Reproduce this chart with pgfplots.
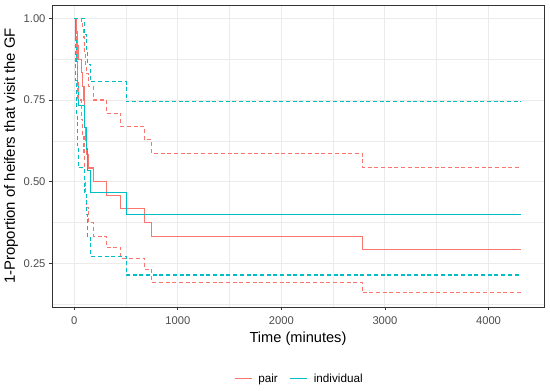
\documentclass[border=0pt]{standalone}
\usepackage{pgfplots}
\pgfplotsset{compat=1.18}
\usepackage{fontspec}
\setmainfont{Liberation Sans}
\definecolor{pairc}{HTML}{F8766D}
\definecolor{indc}{HTML}{00BFC4}
\definecolor{gray92}{HTML}{EBEBEB}
\definecolor{gray20}{HTML}{333333}
\definecolor{gray30}{HTML}{4D4D4D}
\begin{document}
\begin{tikzpicture}[x=1pt,y=1pt]
\useasboundingbox (0,0) rectangle (550,391);
\begin{axis}[
  at={(52pt,84pt)}, anchor=south west,
  scale only axis, width=492pt, height=302pt,
  xmin=-216, xmax=4536, ymin=0.116, ymax=1.041,
  xtick={0,1000,2000,3000,4000},
  ytick={0.25,0.5,0.75,1.0},
  minor xtick={500,1500,2500,3500},
  minor ytick={0.125,0.375,0.625,0.875},
  grid=both,
  major grid style={color=gray92, line width=1pt},
  minor grid style={color=gray92, line width=0.5pt},
  axis line style={gray20, line width=0.9pt},
  tick align=outside,
  major tick length=3pt,
  minor tick length=0pt,
  tick style={gray20, line width=0.8pt},
  xtick pos=bottom, ytick pos=left,
  /pgf/number format/assume math mode=true,
  xticklabel style={/pgf/number format/1000 sep={}, font=\fontsize{11.2}{13}\selectfont, text=gray30, yshift=-3.5pt},
  yticklabel style={/pgf/number format/fixed, /pgf/number format/fixed zerofill, /pgf/number format/precision=2, font=\fontsize{11.2}{13}\selectfont, text=gray30},
  xlabel={Time (minutes)},
  ylabel={1-Proportion of heifers that visit the GF},
  xlabel style={at={(axis description cs:0.5,-0.106)}, anchor=center, font=\fontsize{14.6}{16}\selectfont},
  ylabel style={at={(axis description cs:-0.0833,0.5)}, anchor=center, font=\fontsize{14.9}{16}\selectfont},
  legend style={at={(axis description cs:0.503,-0.238)}, anchor=center, draw=none, fill=none, font=\fontsize{11.7}{13}\selectfont, legend columns=2, /tikz/every even column/.append style={column sep=10pt}},
  legend image code/.code={\draw[#1] (0pt,0pt) -- (17pt,0pt); \path (21pt,0pt);},
  every axis plot/.append style={line width=1.05pt, const plot},
]
% pair
\addplot[pairc] coordinates {
(0,1.0) (20,0.9583) (29,0.9167) (35,0.875) (67,0.8333) (80,0.7917) (93,0.75) (96,0.7083) (100,0.6667) (105,0.625) (115,0.5833) (141,0.5417) (186,0.5) (310,0.4583) (450,0.4167) (680,0.375) (747,0.3333) (2780,0.2917) (4310,0.2917)};
\addlegendentry{pair}
% individual
\addplot[indc] coordinates {
(0,1.0) (10,0.9333) (20,0.8667) (30,0.8) (40,0.7333) (95,0.6667) (120,0.6) (130,0.5333) (157,0.4667) (500,0.4) (4310,0.4)};
\addlegendentry{individual}
% pair CI
\addplot[pairc, dash pattern=on 4pt off 2.7pt, forget plot] coordinates {
(0,1.0) (67,0.99) (80,0.97) (93,0.94) (96,0.92) (100,0.89) (105,0.86) (115,0.83) (141,0.79) (186,0.75) (310,0.71) (450,0.669) (680,0.628) (747,0.587) (2780,0.544) (4310,0.544)};
\addplot[pairc, dash pattern=on 4pt off 2.7pt, forget plot] coordinates {
(0,1.0) (20,0.88) (29,0.81) (35,0.75) (67,0.69) (80,0.64) (93,0.59) (96,0.54) (100,0.50) (105,0.46) (115,0.42) (141,0.375) (186,0.333) (310,0.299) (450,0.265) (680,0.232) (747,0.192) (2780,0.159) (4310,0.159)};
% individual CI
\addplot[indc, dash pattern=on 4pt off 2.7pt, forget plot] coordinates {
(0,1.0) (95,0.95) (120,0.90) (130,0.86) (157,0.806) (500,0.745) (4310,0.745)};
\addplot[indc, dash pattern=on 4pt off 2.7pt, forget plot] coordinates {
(0,1.0) (10,0.81) (20,0.70) (30,0.61) (40,0.543) (95,0.46) (120,0.40) (130,0.33) (157,0.272) (500,0.214) (4310,0.214)};
\end{axis}
\end{tikzpicture}
\end{document}
